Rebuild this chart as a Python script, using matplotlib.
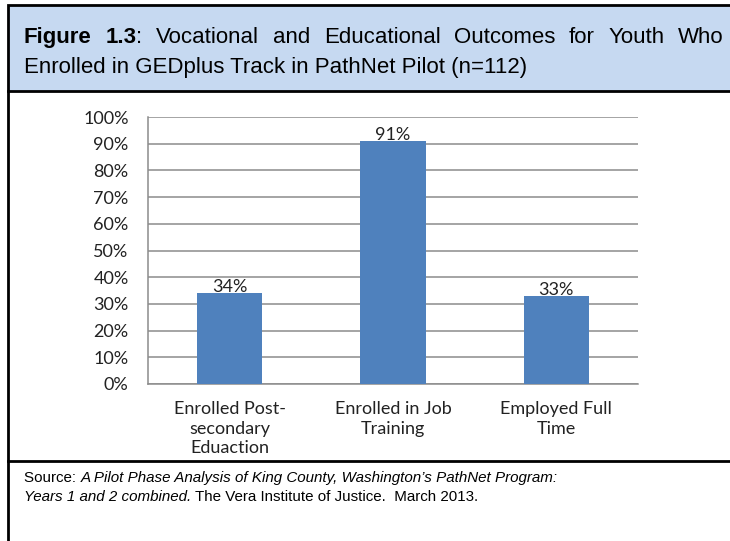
import matplotlib.pyplot as plt
from matplotlib.patches import Rectangle

# chart data
categories = ["Enrolled Post-\nsecondary\nEduaction", "Enrolled in Job\nTraining", "Employed Full\nTime"]
values = [34, 91, 33]
yticks = [0, 10, 20, 30, 40, 50, 60, 70, 80, 90, 100]

W, H = 730, 541
fig = plt.figure(figsize=(W / 100, H / 100), dpi=100)
renderer = fig.canvas.get_renderer()

hfont = "Liberation Sans"
hsize, ssize = 16, 10.9


def fx(px):
    return px / W


def fy(py):
    return 1 - py / H


def justify(words, x0, x1, y, **kw):
    # spread the words so the line fills x0..x1, like a justified paragraph
    arts = []
    for chunks in words:
        group = []
        for s, weight in chunks:
            group.append(fig.text(0, fy(y), s, fontweight=weight, va="baseline", **kw))
        arts.append(group)
    widths = [[t.get_window_extent(renderer).width for t in g] for g in arts]
    total = sum(sum(w) for w in widths)
    gap = (x1 - x0 - total) / (len(words) - 1)
    pos = x0
    for g, ws in zip(arts, widths):
        for t, w in zip(g, ws):
            t.set_x(fx(pos))
            pos += w
        pos += gap


# header box, body border and footer separator
left = 8
tx = 24
fig.patches.append(Rectangle((fx(left), fy(91)), fx(740), fy(5) - fy(91), transform=fig.transFigure,
                             facecolor="#C6D9F1", edgecolor="black", linewidth=2, zorder=0))
fig.add_artist(plt.Line2D([fx(left), fx(left)], [fy(91), 0], color="black", linewidth=2))
fig.add_artist(plt.Line2D([fx(left), 1], [fy(461), fy(461)], color="black", linewidth=2))

line1 = [[("Figure", "bold")], [("1.3", "bold"), (":", "normal")]] + \
    [[(w, "normal")] for w in "Vocational and Educational Outcomes for Youth Who".split()]
justify(line1, tx, 724, 43, fontsize=hsize, family=hfont)
fig.text(fx(tx), fy(73), "Enrolled in GEDplus Track in PathNet Pilot (n=112)", fontsize=hsize,
         family=hfont, va="baseline")

# source note with italic title
s1 = fig.text(fx(tx), fy(482), "Source: ", fontsize=ssize, family=hfont, va="baseline")
fig.add_artist(plt.Annotation("A Pilot Phase Analysis of King County, Washington\u2019s PathNet Program:",
                              xy=(1, 0), xycoords=s1, va="bottom", fontsize=ssize, family=hfont,
                              style="italic"))
s2 = fig.text(fx(tx), fy(501), "Years 1 and 2 combined.", fontsize=ssize, family=hfont,
              style="italic", va="baseline")
fig.add_artist(plt.Annotation(" The Vera Institute of Justice.  March 2013.", xy=(1, 0), xycoords=s2,
                              va="bottom", fontsize=ssize, family=hfont))

# bar chart
cfont = "Lato"
fs = 13
ax = fig.add_axes([fx(148), fy(384), fx(638) - fx(148), fy(117) - fy(384)])
x = range(len(values))
ax.bar(x, values, width=0.4, color="#4F81BD", zorder=3)
for xi, v in zip(x, values):
    ax.annotate(f"{v}%", (xi, v), xytext=(0, 1), textcoords="offset points", ha="center",
                va="baseline", fontsize=fs, family=cfont, color="#222222")

ax.set_xlim(-0.5, len(values) - 0.5)
ax.set_ylim(0, 100)
ax.set_yticks(yticks)
ax.set_yticklabels([f"{t}%" for t in yticks], family=cfont, fontsize=fs)
ax.set_xticks(list(x))
ax.set_xticklabels(categories, family=cfont, fontsize=fs, linespacing=1.3, va="top")
ax.tick_params(axis="both", length=0, colors="#222222")
ax.tick_params(axis="y", pad=14)
ax.tick_params(axis="x", pad=12)
ax.yaxis.grid(True, color="#8C8C8C", linewidth=1.1, zorder=0)
ax.set_axisbelow(True)
for side in ("top", "right"):
    ax.spines[side].set_visible(False)
for side in ("left", "bottom"):
    ax.spines[side].set_color("#8C8C8C")
    ax.spines[side].set_linewidth(1.1)

fig.savefig("out.png", dpi=100)
